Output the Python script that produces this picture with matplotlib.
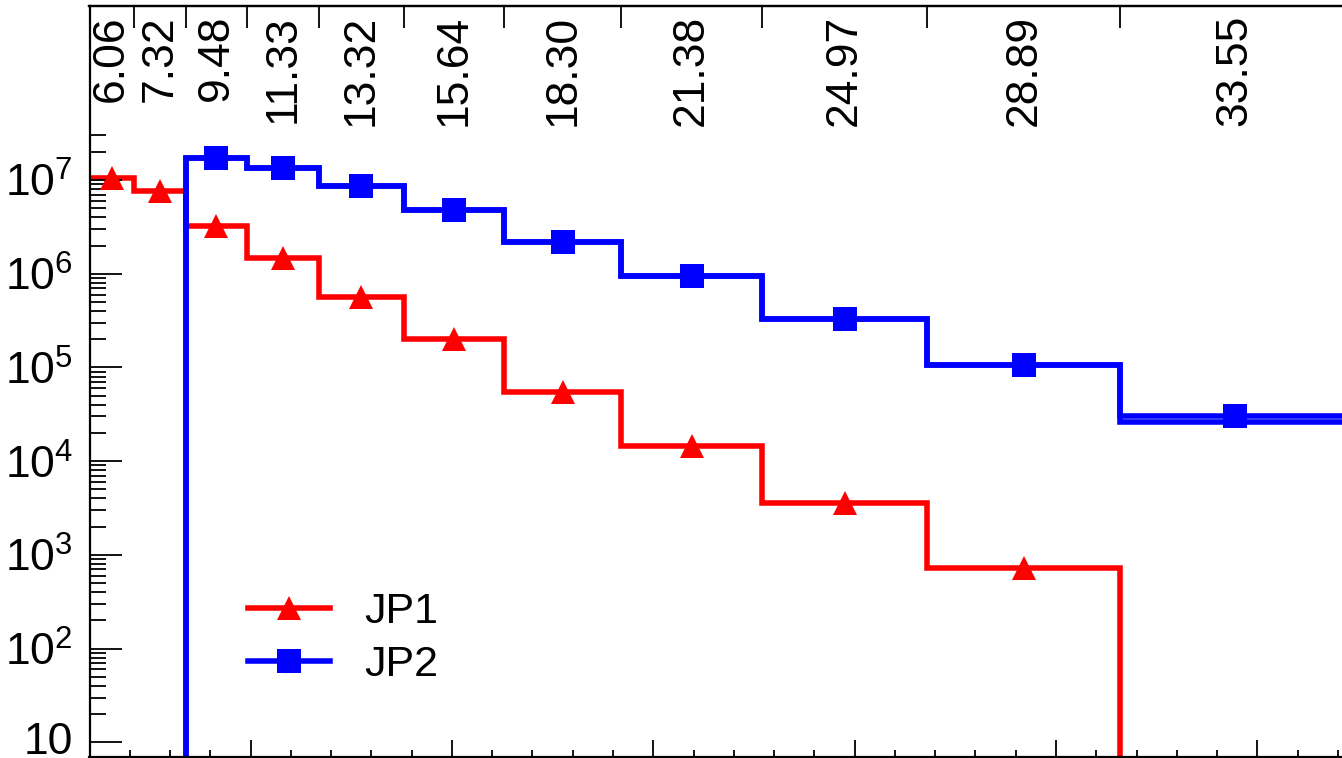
import numpy as np
import matplotlib
matplotlib.use('Agg')
import matplotlib.pyplot as plt
from matplotlib.ticker import FixedLocator, FixedFormatter, NullFormatter
from matplotlib.lines import Line2D

plt.rcParams['font.family'] = ['Liberation Sans', 'DejaVu Sans']
plt.rcParams['mathtext.fontset'] = 'custom'
plt.rcParams['mathtext.rm'] = 'Liberation Sans'

# jet pT bin edges and the mean pT written above each bin
edges = [6.0, 7.1, 8.4, 9.9, 11.7, 13.8, 16.3, 19.2, 22.7, 26.8, 31.6, 37.3]
mean_pt = ['6.06', '7.32', '9.48', '11.33', '13.32', '15.64', '18.30',
           '21.38', '24.97', '28.89', '33.55']

# counts per bin
jp1 = [1.05e7, 7.7e6, 3.25e6, 1.47e6, 5.6e5, 2.0e5, 5.5e4, 1.45e4, 3.55e3, 7.3e2, 0]
jp2 = [0, 0, 1.71e7, 1.34e7, 8.7e6, 4.76e6, 2.18e6, 9.5e5, 3.32e5, 1.05e5, 2.64e4]
jp2_pts = [0, 0, 1.71e7, 1.34e7, 8.7e6, 4.76e6, 2.18e6, 9.5e5, 3.32e5, 1.05e5, 3.03e4]

W, H = 1342, 758
fig = plt.figure(figsize=(W/100, H/100), dpi=100)
ax = fig.add_axes([89.5/W, 1.3/H, (1350-89.5)/W, (756.7-6)/H])

edges = np.array(edges)
centers = 0.5*(edges[:-1] + edges[1:])

def floor0(v):
    v = np.array(v, dtype=float)
    return np.where(v > 0, v, 1e-2)

def pts(v):
    v = np.array(v, dtype=float)
    return np.where(v > 0, v, np.nan)

lw = 4
ms_tri = 17
ms_sq = 17
ax.stairs(floor0(jp1), edges, color='red', lw=lw, baseline=None, joinstyle='miter')
ax.stairs(floor0(jp2), edges, color='blue', lw=lw, baseline=None, joinstyle='miter')
ax.stairs(floor0(jp2_pts), edges, color='blue', lw=lw, baseline=None, joinstyle='miter')
ax.plot(centers, pts(jp1), ls='none', marker='^', ms=ms_tri, mew=0, color='red')
ax.plot(centers, pts(jp2_pts), ls='none', marker='s', ms=ms_sq, mew=0, color='blue')

ax.set_yscale('log')
ax.set_xlim(edges[0], edges[-1])
ax.set_ylim(10**0.846, 10**8.858)

# y ticks
majors = [10.0**k for k in range(1, 8)]
ylabels = ['10'] + [r'$\mathregular{10^{%d}}$' % k for k in range(2, 8)]
minors = [m*10.0**k for k in range(1, 7) for m in range(2, 10)] + [2e7, 3e7]
ax.yaxis.set_major_locator(FixedLocator(majors))
ax.yaxis.set_major_formatter(FixedFormatter(ylabels))
ax.yaxis.set_minor_locator(FixedLocator(minors))
ax.yaxis.set_minor_formatter(NullFormatter())
ax.tick_params(axis='y', which='major', direction='in', length=23, width=1.3,
               labelsize=32, pad=12, right=False)
ax.tick_params(axis='y', which='minor', direction='in', length=11.5, width=1.3, right=False)
fig.canvas.draw()
ax.get_yticklabels()[0].set_va('center')

# x ticks (bottom)
ax.xaxis.set_major_locator(FixedLocator([10, 15, 20, 25, 30, 35]))
ax.xaxis.set_minor_locator(FixedLocator(np.arange(7, 38, 1)))
ax.tick_params(axis='x', which='major', direction='in', length=12.3, width=1.3,
               labelbottom=False, top=False)
ax.tick_params(axis='x', which='minor', direction='in', length=5, width=1.3, top=False)

# top ticks at bin edges
sec = ax.secondary_xaxis('top')
sec.set_xticks(edges[1:-1])
sec.set_xticklabels([])
sec.tick_params(direction='in', length=16, width=1.3)
sec.spines['top'].set_linewidth(1.6)

for s in ax.spines.values():
    s.set_linewidth(1.6)

for c, t in zip(centers, mean_pt):
    ax.text(c, 0.988, t, transform=ax.get_xaxis_transform(), rotation=90,
            ha='center', va='top', fontsize=32)

handles = [Line2D([], [], color='red', lw=lw, marker='^', ms=ms_tri, mew=0),
           Line2D([], [], color='blue', lw=lw, marker='s', ms=ms_sq, mew=0)]
ax.legend(handles, ['JP1', 'JP2'], loc='upper left', bbox_to_anchor=(248/W, 1-592/H),
          bbox_transform=fig.transFigure, frameon=False, fontsize=31,
          handlelength=1.9, handletextpad=0.8, labelspacing=0.3,
          borderpad=0, borderaxespad=0)

fig.savefig('out.png', dpi=100)
